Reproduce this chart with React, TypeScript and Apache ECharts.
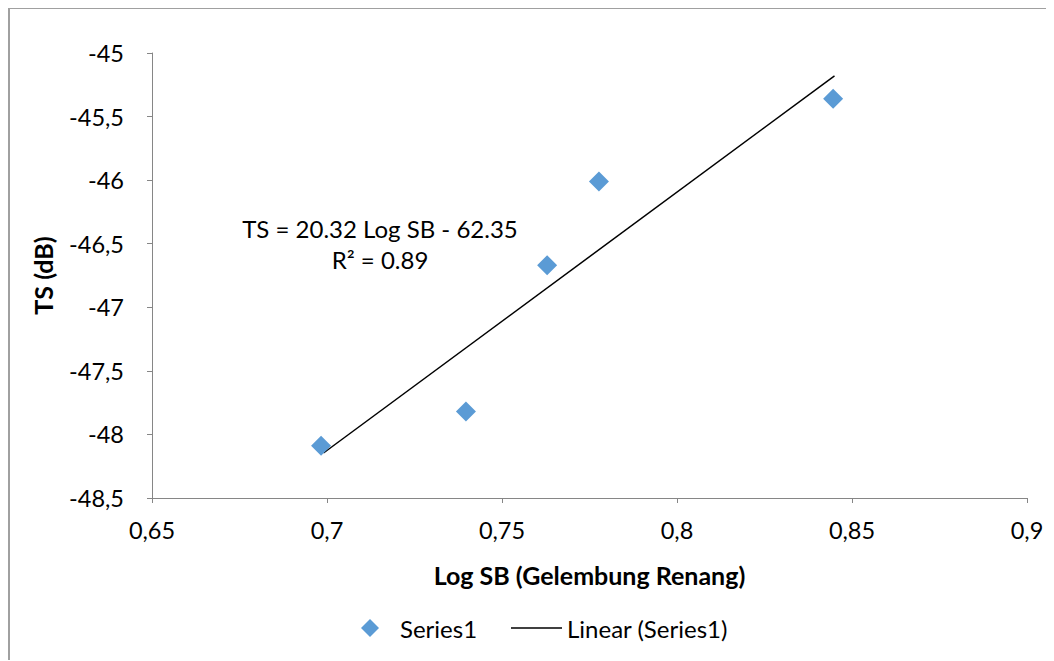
import React, { useEffect, useRef } from "react";
import * as echarts from "echarts";

const logSB = [0.6983, 0.7397, 0.7629, 0.7777, 0.8446];
const tsValues = [-48.09, -47.82, -46.67, -46.01, -45.36];
const trendX = [0.699, 0.845];
const trendY = [-48.146, -45.18];
const xTicks = { min: 0.65, max: 0.9, step: 0.05 };
const yTicks = { min: -48.5, max: -45, step: 0.5 };
const equationLines = ["TS = 20.32 Log SB - 62.35", "R² = 0.89"];

const FONT = "Lato, 'Open Sans', sans-serif";
const comma = (v: number) => String(+v.toFixed(2)).replace(".", ",");

export default function App() {
  const ref = useRef<HTMLDivElement>(null);
  useEffect(() => {
    if (!ref.current) return;
    const chart = echarts.init(ref.current, null, { renderer: "svg" });
    const axisColor = "#868686";
    chart.setOption({
      animation: false,
      backgroundColor: "#ffffff",
      textStyle: { fontFamily: FONT },
      grid: { left: 142, right: 27, top: 44, bottom: 162 },
      xAxis: {
        type: "value",
        min: xTicks.min,
        max: xTicks.max,
        interval: xTicks.step,
        splitLine: { show: false },
        axisLine: { show: true, lineStyle: { color: axisColor, width: 1 } },
        axisTick: { show: true, length: 5, lineStyle: { color: axisColor } },
        axisLabel: { color: "#000", fontSize: 23.5, fontFamily: FONT, margin: 20, formatter: comma },
        name: "Log SB (Gelembung Renang)",
        nameLocation: "middle",
        nameGap: 64,
        nameTextStyle: { color: "#000", fontSize: 25, fontWeight: "bold", fontFamily: FONT },
      },
      yAxis: {
        type: "value",
        min: yTicks.min,
        max: yTicks.max,
        interval: yTicks.step,
        splitLine: { show: false },
        axisLine: { show: true, lineStyle: { color: axisColor, width: 1 } },
        axisTick: { show: true, length: 5, lineStyle: { color: axisColor } },
        axisLabel: { color: "#000", fontSize: 23.5, fontFamily: FONT, margin: 28, formatter: comma },
        name: "TS (dB)",
        nameLocation: "middle",
        nameRotate: 90,
        nameGap: 97,
        nameTextStyle: { color: "#000", fontSize: 25, fontWeight: "bold", fontFamily: FONT },
      },
      legend: [
        {
          data: [{ name: "Series1", icon: "diamond" }],
          left: 346,
          top: 602,
          itemWidth: 18,
          itemHeight: 18,
          textStyle: { color: "#000", fontSize: 24, fontFamily: FONT, padding: [0, 0, 0, 16] },
        },
        {
          data: [{ name: "Linear (Series1)", icon: "rect" }],
          left: 496,
          top: 602,
          itemWidth: 51,
          itemHeight: 1.5,
          textStyle: { color: "#000", fontSize: 24, fontFamily: FONT },
        },
      ],
      series: [
        {
          name: "Series1",
          type: "scatter",
          symbol: "diamond",
          symbolSize: 20,
          itemStyle: { color: "#5b9bd5", opacity: 1 },
          data: logSB.map((x, i) => [x, tsValues[i]]),
          z: 3,
        },
        {
          name: "Linear (Series1)",
          type: "line",
          symbol: "none",
          lineStyle: { color: "#000", width: 1.5 },
          itemStyle: { color: "#000" },
          data: trendX.map((x, i) => [x, trendY[i]]),
          z: 2,
        },
      ],
      graphic: [
        {
          type: "text",
          x: 370,
          y: 235,
          style: {
            text: equationLines.join("\n"),
            fill: "#000",
            font: `24px ${FONT}`,
            align: "center",
            verticalAlign: "middle",
            lineHeight: 31,
          },
        },
      ],
    });
    return () => chart.dispose();
  }, []);
  return (
    <div
      style={{
        width: 1046,
        height: 653,
        borderTop: "2px solid #a0a0a0",
        borderLeft: "2px solid #a0a0a0",
        boxSizing: "border-box",
        marginTop: -1,
      }}
    >
      <div ref={ref} style={{ width: 1044, height: 651 }} />
    </div>
  );
}
